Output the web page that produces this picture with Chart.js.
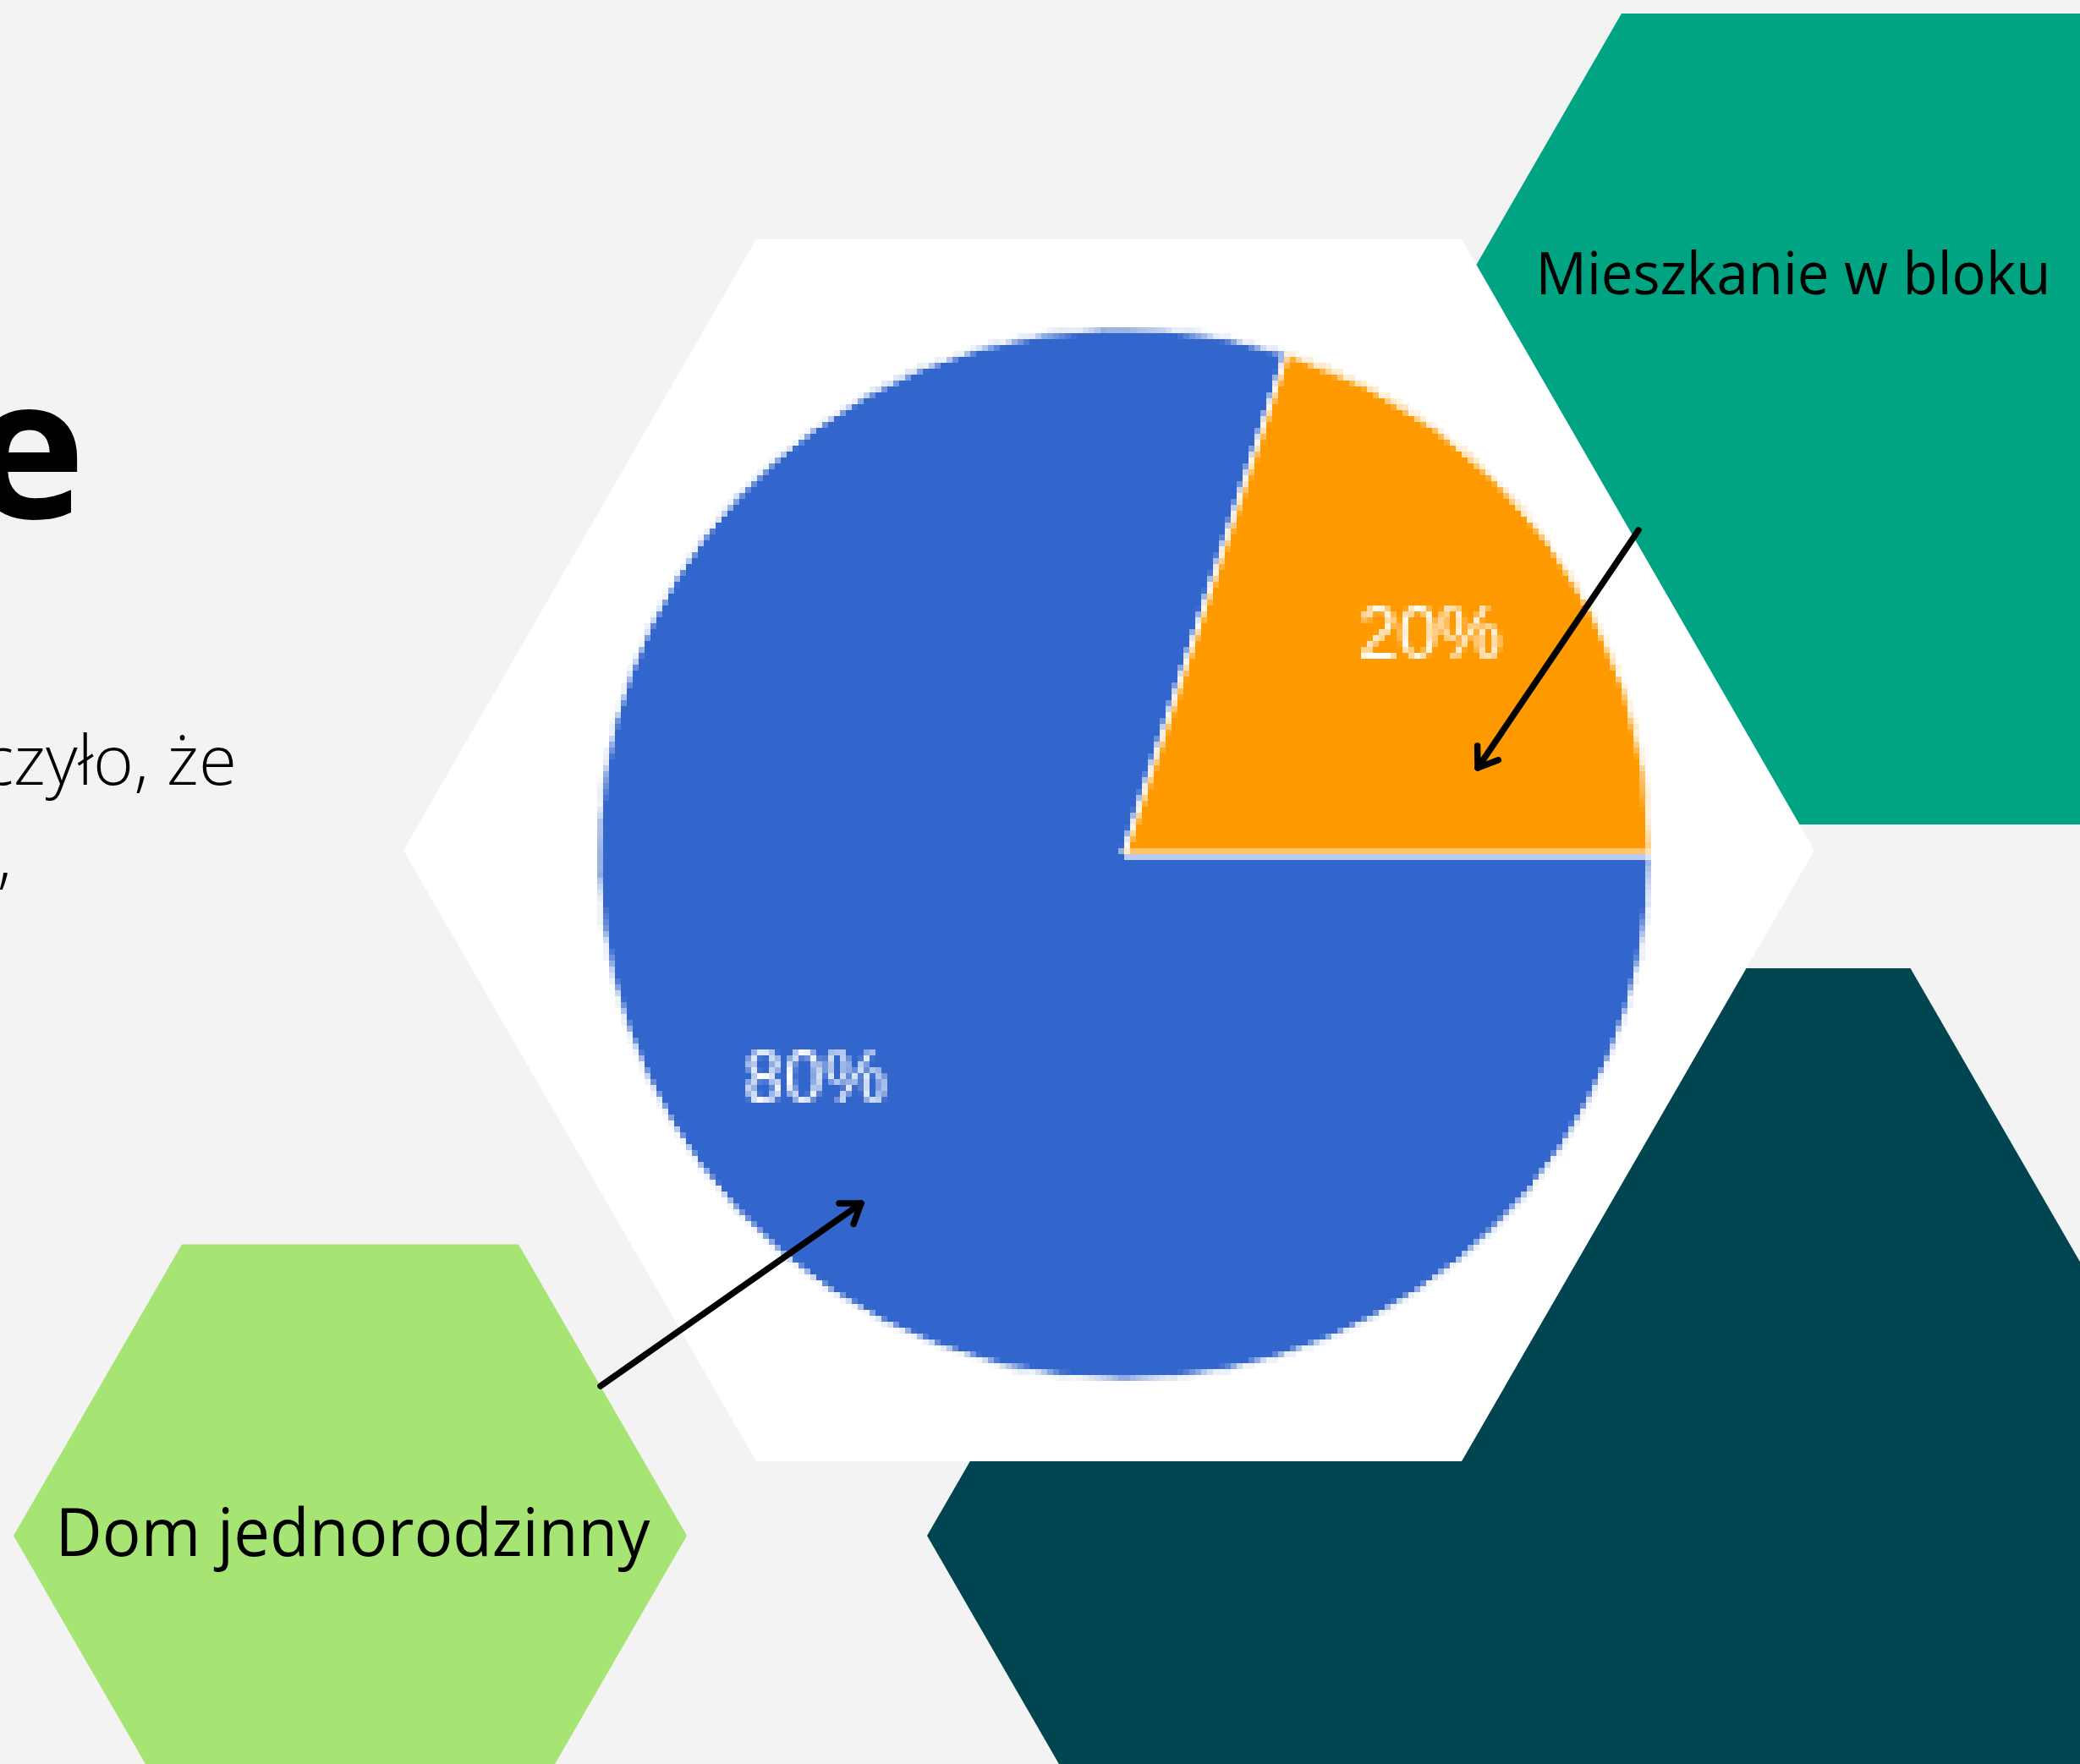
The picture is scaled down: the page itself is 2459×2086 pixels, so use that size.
<!DOCTYPE html>
<html>
<head>
<meta charset="utf-8">
<script src="https://cdn.jsdelivr.net/npm/chart.js@4.4.1/dist/chart.umd.min.js"></script>
<style>
  html, body { margin: 0; padding: 0; }
  body { width: 2459px; height: 2086px; background: #f3f3f3; overflow: hidden; position: relative; }
  #bg, #fg { position: absolute; left: 0; top: 0; }
  #wrap { position: absolute; left: 629px; top: 310px; width: 1400px; height: 1400px; }
  #pie { image-rendering: pixelated; image-rendering: crisp-edges; }
</style>
</head>
<body>
<script>
// ---- data ----
const categories = ['Dom jednorodzinny', 'Mieszkanie w bloku'];
const values = [80, 20];
const sliceColors = ['#3366cc', '#ff9900'];
</script>

<svg id="bg" width="2459" height="2086" viewBox="0 0 2459 2086">
  <polygon fill="#00a382" points="1640,495.5 1917,16 2471,16 2748,495.5 2471,975 1917,975"/>
  <polygon fill="#004550" points="1096,1816 1483.5,1145 2258.5,1145 2646,1816 2258.5,2487 1483.5,2487"/>
  <polygon fill="#ffffff" points="477,1005.5 894,283 1728,283 2145,1005.5 1728,1728 894,1728"/>
  <polygon fill="#a6e473" points="16,1816 215,1471.5 613,1471.5 812,1816 613,2160.5 215,2160.5"/>
</svg>

<div id="wrap"><canvas id="pie" width="1400" height="1400" style="width:1400px;height:1400px"></canvas></div>

<svg id="fg" width="2459" height="2086" viewBox="0 0 2459 2086">
  <g font-family="'Open Sans', 'Noto Sans', sans-serif" fill="#000">
    <text x="101" y="613" font-size="232" font-weight="700" text-anchor="end">e</text>
    <text x="280" y="928" font-size="82" font-weight="300" text-anchor="end">czyło, że</text>
    <text x="14" y="1042" font-size="82" font-weight="300" text-anchor="end">,</text>
    <text id="lblB" x="2120" y="348" font-size="69" font-weight="400" text-anchor="middle" textLength="609" lengthAdjust="spacingAndGlyphs"></text>
    <text id="lblA" x="417" y="1840" font-size="78" font-weight="400" text-anchor="middle" textLength="703" lengthAdjust="spacingAndGlyphs"></text>
  </g>
  <g stroke="#000" stroke-width="7.5" stroke-linecap="round" stroke-linejoin="round" fill="none">
    <line x1="1937" y1="627" x2="1747" y2="908"/>
    <polyline points="1771.3,898.7 1747,908 1746.6,882"/>
    <line x1="710" y1="1639" x2="1018" y2="1423"/>
    <polyline points="992,1423 1018,1423 1009.1,1447.4"/>
  </g>
</svg>

<script>
document.getElementById('lblA').textContent = categories[0];
document.getElementById('lblB').textContent = categories[1];

const total = values.reduce((a, b) => a + b, 0);

const sliceLabels = {
  id: 'sliceLabels',
  afterDatasetsDraw(chart) {
    const ctx = chart.ctx;
    const meta = chart.getDatasetMeta(0);
    ctx.save();
    ctx.fillStyle = '#ffffff';
    ctx.font = '85px "Liberation Sans", Arial, sans-serif';
    ctx.textAlign = 'center';
    ctx.textBaseline = 'middle';
    meta.data.forEach((arc, i) => {
      const p = arc.getProps(['x', 'y', 'startAngle', 'endAngle', 'outerRadius'], true);
      const mid = (p.startAngle + p.endAngle) / 2;
      const r = p.outerRadius * 0.72;
      const txt = Math.round(values[i] / total * 100) + '%';
      ctx.fillText(txt, p.x + Math.cos(mid) * r - 2, p.y + Math.sin(mid) * r + 7);
    });
    ctx.restore();
  }
};

new Chart(document.getElementById('pie'), {
  type: 'pie',
  data: {
    labels: categories,
    datasets: [{
      data: values,
      backgroundColor: sliceColors,
      borderColor: '#ffffff',
      borderWidth: 6,
      hoverBorderWidth: 0
    }]
  },
  options: {
    responsive: false,
    maintainAspectRatio: false,
    devicePixelRatio: 1 / 7,
    animation: false,
    rotation: 90,
    layout: { padding: 74 },
    plugins: {
      legend: { display: false },
      tooltip: { enabled: false },
      title: { display: false }
    }
  },
  plugins: [sliceLabels]
});
</script>
</body>
</html>
